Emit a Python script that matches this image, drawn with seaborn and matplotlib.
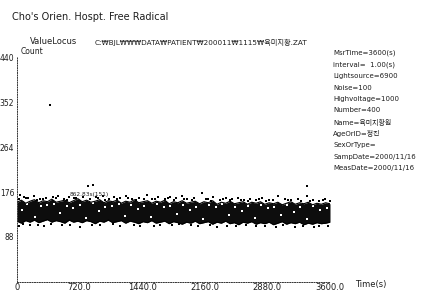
import matplotlib
matplotlib.use('Agg')
import matplotlib.pyplot as plt
import seaborn as sns

# envelope of the dense band of counts, every 50 s
band_t = list(range(0, 3650, 50))
band_hi = [156, 160, 154, 158, 161, 155, 159, 157, 162, 156, 158, 160, 155, 159, 163, 157, 160, 156, 158, 161,
           155, 159, 157, 160, 154, 158, 156, 161, 155, 157, 159, 154, 158, 156, 160, 153, 157, 155, 159, 154,
           156, 158, 153, 157, 155, 159, 152, 156, 154, 158, 153, 155, 157, 152, 156, 154, 157, 152, 155, 153,
           156, 151, 154, 157, 152, 155, 153, 156, 151, 154, 152, 155, 153]
band_lo = [119, 115, 120, 117, 121, 116, 119, 122, 117, 120, 118, 115, 121, 117, 119, 116, 120, 118, 114, 119,
           117, 121, 116, 118, 120, 115, 119, 117, 114, 118, 116, 120, 115, 117, 119, 114, 118, 116, 113, 117,
           115, 119, 114, 116, 118, 113, 117, 115, 119, 114, 116, 112, 117, 115, 118, 113, 116, 114, 117, 112,
           115, 118, 113, 116, 114, 117, 112, 115, 113, 116, 114, 115, 117]

# stray points outside the dense band
speck_t = [40, 75, 130, 190, 260, 330, 380, 410, 470, 540, 600, 680, 760, 817, 875, 930, 990, 1060,
           1120, 1190, 1250, 1320, 1400, 1495, 1550, 1620, 1700, 1760, 1830, 1900, 1960, 2040, 2130,
           2200, 2260, 2330, 2400, 2470, 2540, 2610, 2680, 2750, 2820, 2900, 3000, 3080, 3150, 3230,
           3330, 3330, 3400, 3470, 3540,
           20, 150, 310, 520, 720, 950, 1180, 1420, 1650, 1865, 2080, 2300, 2520, 2750, 2980, 3200, 3420, 3580,
           25, 105, 225, 295, 445, 575, 655, 835, 905, 1015, 1145, 1275, 1365, 1455, 1585, 1735, 1805, 1925,
           2015, 2175, 2235, 2365, 2445, 2575, 2655, 2785, 2865, 2945, 3115, 3265, 3365, 3515, 3595,
           65, 245, 395, 615, 865, 1105, 1345, 1575, 1785, 2005, 2215, 2415, 2635, 2855, 3055, 3285, 3475]
speck_v = [171, 166, 164, 168, 163, 165, 346, 166, 169, 163, 167, 164, 166, 187, 189, 165, 168, 163,
           166, 164, 169, 163, 165, 171, 163, 167, 162, 166, 164, 168, 163, 165, 175,
           163, 166, 161, 164, 162, 165, 161, 163, 160, 164, 161, 168, 162, 160, 163,
           188, 168, 161, 159, 162,
           110, 112, 109, 111, 108, 112, 110, 109, 111, 113, 110, 108, 110, 109, 107, 108, 107, 109,
           162, 164, 160, 163, 165, 161, 164, 163, 166, 161, 163, 165, 160, 163, 162, 164, 161, 162,
           160, 163, 159, 162, 160, 161, 159, 162, 158, 161, 160, 158, 159, 161, 158,
           113, 112, 114, 112, 111, 113, 112, 110, 112, 111, 112, 110, 111, 109, 111, 110, 109]

# small light gaps inside the band
hole_t = [60, 210, 350, 500, 640, 790, 940, 1090, 1240, 1390, 1540, 1690, 1840, 1990, 2140, 2290,
          2440, 2590, 2740, 2890, 3040, 3190, 3340, 3490,
          120, 280, 430, 570, 720, 870, 1010, 1170, 1310, 1460, 1610, 1760, 1910, 2060, 2210, 2360,
          2510, 2660, 2810, 2960, 3110, 3260, 3410, 3560]
hole_v = [140, 128, 150, 135, 145, 125, 138, 148, 130, 142, 127, 146, 133, 140, 124, 147, 132, 139,
          126, 144, 131, 137, 123, 141,
          152, 149, 153, 148, 151, 154, 147, 152, 150, 149, 153, 148, 151, 147, 150, 152,
          146, 149, 151, 147, 150, 146, 148, 145]

side_lines = ['MsrTime=3600(s)', 'interval=  1.00(s)', 'Lightsource=6900', 'Noise=100',
              'Highvoltage=1000', 'Number=400', 'Name=육미지황원', 'AgeOrID=정진', 'SexOrType=',
              'SampDate=2000/11/16', 'MeasDate=2000/11/16']

x_ticks = [0, 720, 1440, 2160, 2880, 3600]
x_labels = ['0', '720.0', '1440.0', '2160.0', '2880.0', '3600.0']
y_ticks = [88, 176, 264, 352, 440]

sns.set_style('white')
plt.rcParams['font.family'] = ['DejaVu Sans', 'Noto Sans CJK KR']
ink = '#1e1e1e'

W, H = 437, 295
fig = plt.figure(figsize=(W / 100, H / 100), dpi=100)
ax = fig.add_axes([17 / W, (H - 282) / H, (330 - 17) / W, (282 - 57) / H])

ax.fill_between(band_t, band_lo, band_hi, color='#0d0d0d', lw=0)
sns.lineplot(x=band_t, y=band_hi, color='black', lw=0.8, ax=ax)
sns.lineplot(x=band_t, y=band_lo, color='black', lw=0.8, ax=ax)
sns.scatterplot(x=speck_t, y=speck_v, color='black', s=3, marker='s', linewidth=0, ax=ax)
sns.scatterplot(x=hole_t, y=hole_v, color='white', s=1.2, marker='s', linewidth=0, ax=ax)

ax.set_xlim(0, 3600)
ax.set_ylim(0, 440)
ax.set_xticks(x_ticks)
ax.set_xticklabels(x_labels)
ax.set_yticks(y_ticks)
ax.set_yticklabels([str(v) for v in y_ticks])
ax.tick_params(axis='both', labelsize=5.5, colors=ink, length=1.5, width=0.6, pad=0.5)
ax.tick_params(axis='x', labelsize=6, pad=-1)
for s in ['top', 'right']:
    ax.spines[s].set_visible(False)
for s in ['left', 'bottom']:
    ax.spines[s].set_linestyle((0, (1, 1.5)))
    ax.spines[s].set_linewidth(0.7)
    ax.spines[s].set_color('#333333')
ax.set_facecolor('white')

ax.text(610, 168, '862.83s(151)', fontsize=4.2, color=ink)

fig.text(12 / W, 1 - 17 / H, "Cho's Orien. Hospt. Free Radical", fontsize=7, color=ink, va='center')
fig.text(30 / W, 1 - 42 / H, 'ValueLocus', fontsize=6, color=ink, va='center')
fig.text(95 / W, 1 - 42 / H, 'C:₩BJL₩₩₩DATA₩PATIENT₩200011₩1115₩육미지황.ZAT',
         fontsize=5.2, color=ink, va='center')
fig.text(21 / W, 1 - 52 / H, 'Count', fontsize=5.5, color=ink, va='center')
fig.text(355 / W, 1 - 284 / H, 'Time(s)', fontsize=6, color=ink, va='center')
for i, line in enumerate(side_lines):
    fig.text(333 / W, 1 - (53 + i * 11.5) / H, line, fontsize=5, color=ink, va='center')

fig.savefig('out.png', dpi=100, facecolor='white')
